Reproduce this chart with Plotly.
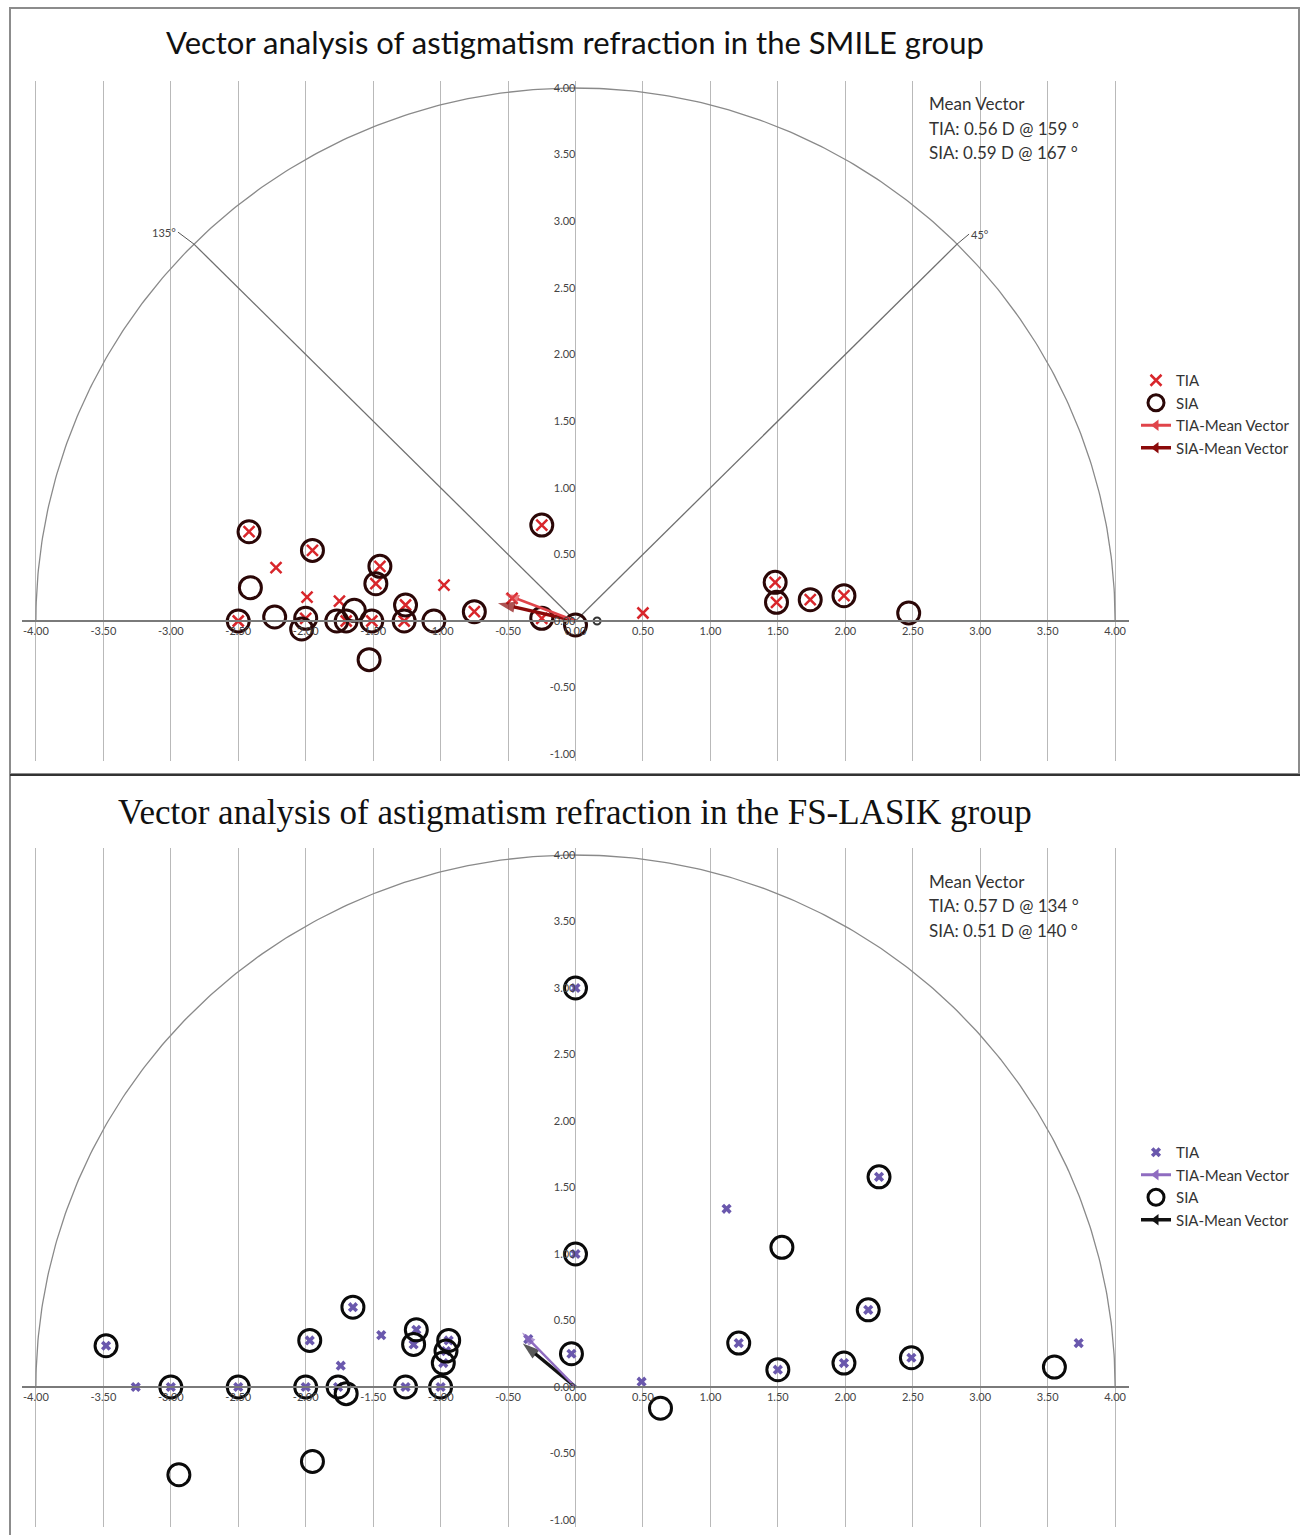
import numpy as np
import plotly.graph_objects as go

W, H = 1300, 1535

# ---------------- data ----------------
X_TICKS = [-4.0, -3.5, -3.0, -2.5, -2.0, -1.5, -1.0, -0.5, 0.0, 0.5, 1.0, 1.5, 2.0, 2.5, 3.0, 3.5, 4.0]
X_TICK_TEXT = ["-4.00", "-3.50", "-3.00", "-2.50", "-2.00", "-1.50", "-1.00", "-0.50", "0.00",
               "0.50", "1.00", "1.50", "2.00", "2.50", "3.00", "3.50", "4.00"]
Y_TICKS = [-1.0, -0.5, 0.0, 0.5, 1.0, 1.5, 2.0, 2.5, 3.0, 3.5, 4.0]
Y_TICK_TEXT = ["-1.00", "-0.50", "0.00", "0.50", "1.00", "1.50", "2.00", "2.50", "3.00", "3.50", "4.00"]

RADIUS = 4.0
ANGLE_LINES_DEG = [45, 135]

# SMILE group
smile_tia_x = [-2.42, -2.22, -1.95, -1.45, -1.48, -1.99, -1.75, -0.975, -0.47, -2.50, -2.00, -1.70,
               -1.51, -1.26, -1.27, -0.75, -0.25, -0.25, 0.50, 1.48, 1.49, 1.74, 1.99]
smile_tia_y = [0.67, 0.40, 0.53, 0.41, 0.28, 0.18, 0.15, 0.27, 0.17, 0.00, 0.02, 0.00,
               0.00, 0.12, 0.00, 0.07, 0.02, 0.72, 0.06, 0.29, 0.14, 0.16, 0.19]
smile_sia_x = [-2.42, -2.41, -1.95, -1.45, -1.48, -2.50, -2.23, -2.00, -2.03, -1.77, -1.70, -1.64,
               -1.51, -1.26, -1.27, -1.05, -0.75, -0.25, -0.25, 0.00, -1.53, 1.48, 1.49, 1.74, 1.99, 2.47]
smile_sia_y = [0.67, 0.25, 0.53, 0.41, 0.28, 0.00, 0.03, 0.02, -0.06, 0.00, 0.00, 0.08,
               0.00, 0.12, 0.00, 0.00, 0.07, 0.02, 0.72, -0.03, -0.29, 0.29, 0.14, 0.16, 0.19, 0.06]
smile_dot_x = [0.16]
smile_dot_y = [0.00]
smile_tia_mean = (0.56, 159)
smile_sia_mean = (0.59, 167)

# FS-LASIK group
lasik_tia_x = [-3.48, -3.26, -3.00, -2.50, -2.00, -1.97, -1.65, -1.74, -1.76, -1.44, -1.18, -1.20,
               -0.94, -0.96, -0.98, -1.26, -1.00, -0.35, -0.03, 0.49, 0.00, 0.00, 1.12, 2.25,
               2.17, 1.21, 1.50, 1.99, 2.49, 3.73]
lasik_tia_y = [0.31, 0.00, 0.00, 0.00, 0.00, 0.35, 0.60, 0.16, 0.00, 0.39, 0.43, 0.32,
               0.35, 0.27, 0.18, 0.00, 0.00, 0.36, 0.25, 0.04, 1.00, 3.00, 1.34, 1.58,
               0.58, 0.33, 0.13, 0.18, 0.22, 0.33]
lasik_sia_x = [-3.48, -3.00, -2.50, -2.00, -1.97, -1.65, -1.76, -1.70, -1.18, -1.20, -0.94, -0.96,
               -0.98, -1.26, -1.00, -2.94, -1.95, -0.03, 0.00, 0.00, 1.53, 2.25, 2.17, 1.21,
               1.50, 1.99, 2.49, 3.55, 0.63]
lasik_sia_y = [0.31, 0.00, 0.00, 0.00, 0.35, 0.60, 0.00, -0.05, 0.43, 0.32, 0.35, 0.27,
               0.18, 0.00, 0.00, -0.66, -0.56, 0.25, 1.00, 3.00, 1.05, 1.58, 0.58, 0.33,
               0.13, 0.18, 0.22, 0.15, -0.16]
lasik_tia_mean = (0.57, 134)
lasik_sia_mean = (0.51, 140)

# ---------------- layout helpers ----------------
def pxx(p):
    return p / W

def pxy(p):
    return 1 - p / H

X0_PX, UNIT_X = 575.5, 134.9
XR = [-4.1, 4.1]
x_dom = [pxx(X0_PX + XR[0] * UNIT_X), pxx(X0_PX + XR[1] * UNIT_X)]
YR = [-1.05, 4.05]
TOP_Y0, TOP_UNIT = 621.0, 133.25
BOT_Y0, BOT_UNIT = 1387.0, 133.0
top_dom = [pxy(TOP_Y0 - YR[0] * TOP_UNIT), pxy(TOP_Y0 - YR[1] * TOP_UNIT)]
bot_dom = [pxy(BOT_Y0 - YR[0] * BOT_UNIT), pxy(BOT_Y0 - YR[1] * BOT_UNIT)]

TICK_FONT = dict(family="Lato, Open Sans, sans-serif", size=11, color="#444444")
GRID = "#b9b9b9"

fig = go.Figure()

theta = np.linspace(0, np.pi, 361)
circ_x = RADIUS * np.cos(theta)
circ_y = RADIUS * np.sin(theta)

for xa, ya in [("x", "y"), ("x2", "y2")]:
    fig.add_trace(go.Scatter(x=circ_x, y=circ_y, mode="lines", xaxis=xa, yaxis=ya,
                             line=dict(color="#8a8a8a", width=1.3), showlegend=False, hoverinfo="skip"))

for ang in ANGLE_LINES_DEG:
    a = np.deg2rad(ang)
    fig.add_trace(go.Scatter(x=[0, RADIUS * np.cos(a)], y=[0, RADIUS * np.sin(a)], mode="lines",
                             xaxis="x", yaxis="y", line=dict(color="#6f6f6f", width=1.3),
                             showlegend=False, hoverinfo="skip"))

RED = "#d8262b"
TIA_ARROW_RED = "#e0444a"
DARKRED = "#8b0a0a"
SIA_TOP = "#2b0707"
PURPLE = "#6a58ad"
PURPLE_ARROW = "#8f6cc0"
BLACK = "#0a0a0a"


def vec(mag_deg):
    mag, deg = mag_deg
    a = np.deg2rad(deg)
    return [0.0, mag * np.cos(a)], [0.0, mag * np.sin(a)]


def arrow_trace(mv, color, width, xa, ya, size=18):
    vx, vy = vec(mv)
    return go.Scatter(x=vx, y=vy, mode="lines+markers", xaxis=xa, yaxis=ya, showlegend=False,
                      hoverinfo="skip", line=dict(color=color, width=width),
                      marker=dict(symbol="arrow", size=[0, size], angleref="previous", color=color,
                                  line=dict(width=0)))


def legend_arrow(name, color, width, xa, ya, leg):
    return go.Scatter(x=[None], y=[None], mode="lines+markers", name=name, xaxis=xa, yaxis=ya,
                      line=dict(color=color, width=width), legend=leg,
                      marker=dict(symbol="triangle-left", size=10, color=color))


# ---- SMILE traces ----
fig.add_trace(go.Scatter(x=smile_tia_x, y=smile_tia_y, mode="markers", name="TIA", xaxis="x", yaxis="y",
                         marker=dict(symbol="x-thin-open", size=11, color=RED, line=dict(color=RED, width=2.5)),
                         legend="legend"))
fig.add_trace(go.Scatter(x=smile_sia_x, y=smile_sia_y, mode="markers", name="SIA", xaxis="x", yaxis="y",
                         marker=dict(symbol="circle-open", size=22, color=SIA_TOP, line=dict(color=SIA_TOP, width=3)),
                         legend="legend"))
fig.add_trace(go.Scatter(x=smile_dot_x, y=smile_dot_y, mode="markers", xaxis="x", yaxis="y", showlegend=False,
                         marker=dict(symbol="circle-open", size=7, color="#333333", line=dict(color="#333333", width=2))))
fig.add_trace(arrow_trace(smile_sia_mean, DARKRED, 3.5, "x", "y"))
fig.add_trace(arrow_trace(smile_tia_mean, TIA_ARROW_RED, 2.5, "x", "y", 15))
fig.add_trace(legend_arrow("TIA-Mean Vector", TIA_ARROW_RED, 3, "x", "y", "legend"))
fig.add_trace(legend_arrow("SIA-Mean Vector", DARKRED, 3.5, "x", "y", "legend"))

# ---- FS-LASIK traces ----
fig.add_trace(go.Scatter(x=lasik_tia_x, y=lasik_tia_y, mode="markers", name="TIA", xaxis="x2", yaxis="y2",
                         marker=dict(symbol="x", size=9, color=PURPLE, line=dict(width=0)),
                         legend="legend2"))
fig.add_trace(legend_arrow("TIA-Mean Vector", PURPLE_ARROW, 3, "x2", "y2", "legend2"))
fig.add_trace(go.Scatter(x=lasik_sia_x, y=lasik_sia_y, mode="markers", name="SIA", xaxis="x2", yaxis="y2",
                         marker=dict(symbol="circle-open", size=22, color=BLACK, line=dict(color=BLACK, width=3)),
                         legend="legend2"))
fig.add_trace(legend_arrow("SIA-Mean Vector", "#111111", 3.5, "x2", "y2", "legend2"))
fig.add_trace(arrow_trace(lasik_sia_mean, "#111111", 3.5, "x2", "y2"))
fig.add_trace(arrow_trace(lasik_tia_mean, PURPLE_ARROW, 2.5, "x2", "y2", 15))

annotations = []

# angle labels
a45 = np.deg2rad(45)
a135 = np.deg2rad(135)
annotations.append(dict(x=RADIUS * np.cos(a135), y=RADIUS * np.sin(a135), xref="x", yref="y", text="135°",
                        showarrow=True, arrowhead=0, arrowwidth=1, arrowcolor="#555", ax=-16, ay=-12,
                        font=dict(family="Lato", size=11, color="#444"), xanchor="right"))
annotations.append(dict(x=RADIUS * np.cos(a45), y=RADIUS * np.sin(a45), xref="x", yref="y", text="45°",
                        showarrow=True, arrowhead=0, arrowwidth=1, arrowcolor="#555", ax=12, ay=-10,
                        font=dict(family="Lato", size=11, color="#444"), xanchor="left"))

# titles
annotations.append(dict(x=pxx(575), y=pxy(42), xref="paper", yref="paper", showarrow=False,
                        text="Vector analysis of astigmatism refraction in the SMILE group",
                        font=dict(family="Lato, Open Sans, sans-serif", size=31, color="#111111"),
                        xanchor="center", yanchor="middle"))
annotations.append(dict(x=pxx(575), y=pxy(812), xref="paper", yref="paper", showarrow=False,
                        text="Vector analysis of astigmatism refraction in the FS-LASIK group",
                        font=dict(family="Liberation Serif, DejaVu Serif, serif", size=35, color="#111111"),
                        xanchor="center", yanchor="middle"))

# mean vector boxes
MV_FONT = dict(family="Lato, Open Sans, sans-serif", size=17, color="#333333")


def mv_lines(tia, sia):
    return ["Mean Vector",
            f"TIA: {tia[0]:.2f} D @ {tia[1]} °",
            f"SIA: {sia[0]:.2f} D @ {sia[1]} °"]


for lines, y0 in [(mv_lines(smile_tia_mean, smile_sia_mean), 104),
                  (mv_lines(lasik_tia_mean, lasik_sia_mean), 881)]:
    for i, t in enumerate(lines):
        annotations.append(dict(x=pxx(927), y=pxy(y0 + 24.5 * i), xref="paper", yref="paper", showarrow=False,
                                align="left", xanchor="left", yanchor="middle", font=MV_FONT, text=t))

shapes = [
    dict(type="rect", xref="paper", yref="paper", x0=pxx(10), x1=pxx(1299), y0=pxy(774), y1=pxy(8),
         line=dict(color="#8c8c8c", width=2)),
    dict(type="line", xref="paper", yref="paper", x0=pxx(10), x1=pxx(10), y0=pxy(1535), y1=pxy(774),
         line=dict(color="#8c8c8c", width=2)),
    dict(type="line", xref="paper", yref="paper", x0=pxx(10), x1=1, y0=pxy(775), y1=pxy(775),
         line=dict(color="#333333", width=2)),
]


def xaxis_cfg(ypos):
    return dict(domain=x_dom, range=XR, tickvals=X_TICKS, ticktext=X_TICK_TEXT, showgrid=True,
                gridcolor=GRID, gridwidth=1.3, zeroline=False, showline=True, linecolor="#7a7a7a",
                linewidth=2, ticks="", tickfont=TICK_FONT, anchor="free", position=ypos, fixedrange=True)


def yaxis_cfg(dom):
    return dict(domain=dom, range=YR, tickvals=Y_TICKS, ticktext=Y_TICK_TEXT, showgrid=False,
                zeroline=False, showline=False, ticks="", tickfont=TICK_FONT, anchor="free",
                position=pxx(X0_PX), fixedrange=True)


LEG_FONT = dict(family="Lato, Open Sans, sans-serif", size=15, color="#333333")
fig.update_layout(
    width=W, height=H, margin=dict(l=0, r=0, t=0, b=0),
    paper_bgcolor="white", plot_bgcolor="white",
    xaxis=xaxis_cfg(pxy(TOP_Y0)), yaxis=yaxis_cfg(top_dom),
    xaxis2=xaxis_cfg(pxy(BOT_Y0)), yaxis2=yaxis_cfg(bot_dom),
    legend=dict(x=pxx(1136), y=pxy(364), xanchor="left", yanchor="top", font=LEG_FONT,
                bgcolor="rgba(0,0,0,0)", tracegroupgap=0, itemwidth=30),
    legend2=dict(x=pxx(1136), y=pxy(1136), xanchor="left", yanchor="top", font=LEG_FONT,
                 bgcolor="rgba(0,0,0,0)", tracegroupgap=0, itemwidth=30),
    annotations=annotations, shapes=shapes, showlegend=True,
)

fig.write_html("out.html", post_script="document.body.style.margin='0px';",
               config={"displayModeBar": False})
